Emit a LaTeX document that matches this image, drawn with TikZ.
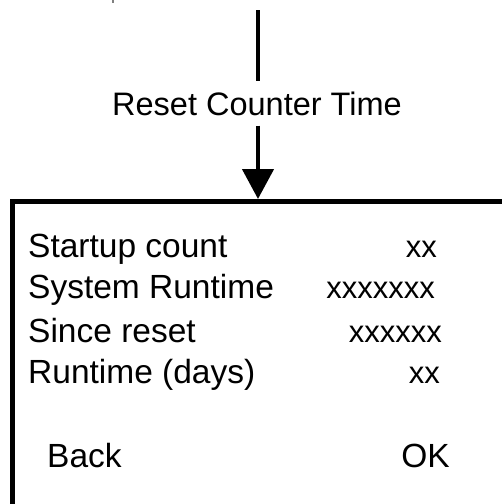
\documentclass[tikz,border=0pt]{standalone}
\usepackage{fontspec}
\setmainfont{Liberation Sans}
\usetikzlibrary{arrows.meta}
\begin{document}
\begin{tikzpicture}[x=1pt,y=-1pt,
  lbl/.style={inner sep=0pt,anchor=base west,font=\fontsize{33.5}{38}\selectfont},
  val/.style={inner sep=0pt,anchor=base east,font=\fontsize{31}{36}\selectfont},
  conn/.style={line width=4.5pt},
  screen/.style={draw,line width=5pt,anchor=north west,minimum width=540pt,minimum height=340pt,inner sep=0pt}]
\useasboundingbox (0,0) rectangle (502,504);
\clip (0,0) rectangle (502,504);
\draw[gray,line width=1.5pt] (113,0) -- (113,3);
\coordinate (top) at (258,10);
\node[inner sep=0pt,inner ysep=10pt,anchor=base,font=\fontsize{32.5}{37}\selectfont] (title) at (257,115) {Reset Counter Time};
\node[screen] (box) at (10,199) {};
\draw[conn] (top) -- (title.north -| top);
\draw[conn,-{Triangle[width=31pt,length=30pt]}] (title.south -| top) -- (top |- box.north);
\node[lbl] (l1) at (28,257) {Startup count};
\node[lbl] (l2) at (28,298) {System Runtime};
\node[lbl] (l3) at (28,342) {Since reset};
\node[lbl] (l4) at (28,383) {Runtime (days)};
\node[lbl] (l5) at (47,467) {Back};
\node[val] (v1) at (437,257) {xx};
\node[val] (v2) at (435,298) {xxxxxxx};
\node[val] (v3) at (442,342) {xxxxxx};
\node[val] (v4) at (440,383) {xx};
\node[val,font=\fontsize{33.5}{38}\selectfont] (v5) at (450,467) {OK};
\end{tikzpicture}
\end{document}
